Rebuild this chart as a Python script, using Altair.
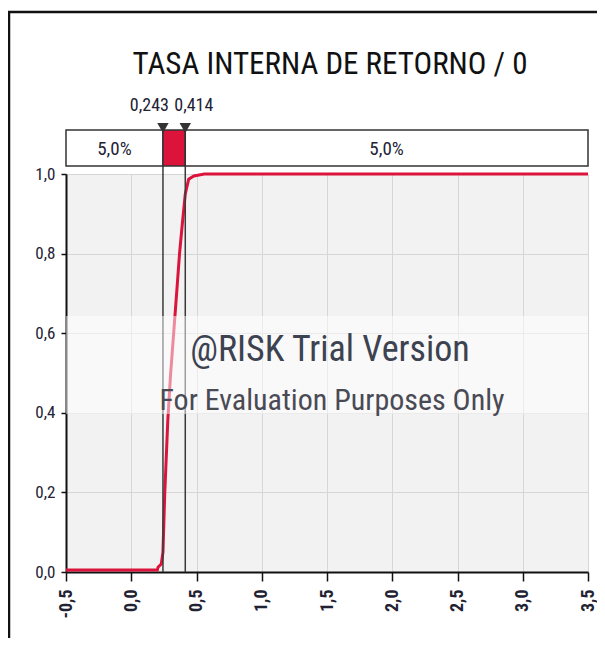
import altair as alt
import pandas as pd

# ---- data ----
cdf_x = [-0.5, 0.20, 0.205, 0.23, 0.243, 0.257, 0.28, 0.30, 0.325, 0.35, 0.37, 0.39, 0.414, 0.44, 0.48, 0.56, 3.5]
cdf_y = [0.005, 0.005, 0.012, 0.02, 0.05, 0.20, 0.38, 0.49, 0.60, 0.71, 0.80, 0.87, 0.95, 0.987, 0.995, 1.0, 1.0]

marker_x = [0.243, 0.414]
marker_label = ["0,243", "0,414"]

seg_start = [-0.5, 0.243, 0.414]
seg_end = [0.243, 0.414, 3.5]
seg_label = ["5,0%", "", "5,0%"]
seg_fill = ["#ffffff", "#dc143c", "#ffffff"]

x_ticks = [-0.5, 0.0, 0.5, 1.0, 1.5, 2.0, 2.5, 3.0, 3.5]
y_ticks = [0.0, 0.2, 0.4, 0.6, 0.8, 1.0]

title_text = "TASA INTERNA DE RETORNO / 0"
wm_line1 = "@RISK Trial Version"
wm_line2 = "For Evaluation Purposes Only"

FONT = "Roboto Condensed, Roboto, sans-serif"
RED = "#dc143c"
DARK = "#222233"

W, H = 522, 398

cdf = pd.DataFrame({"x": cdf_x, "p": cdf_y})
markers = pd.DataFrame({"x": marker_x, "label": marker_label})
segs = pd.DataFrame({"x0": seg_start, "x1": seg_end, "label": seg_label, "fill": seg_fill})
one = pd.DataFrame({"t": [title_text]})

xs = alt.Scale(domain=[x_ticks[0], x_ticks[-1]], nice=False, zero=False)
ys = alt.Scale(domain=[y_ticks[0], y_ticks[-1]], nice=False, zero=False)

fmt = "replace(replace(format(datum.value, '.1f'), '.', ','), '\u2212', '-')"

x_axis = alt.Axis(values=x_ticks, labelExpr=fmt, labelAngle=270, title=None,
                  grid=True, gridColor="#d6d6d6", domainColor="#111111", domainWidth=2,
                  tickColor="#111111", tickWidth=1.5, tickSize=9, labelPadding=8,
                  labelFont=FONT, labelFontSize=18, labelColor=DARK, labelFontWeight="bold")
y_axis = alt.Axis(values=y_ticks, labelExpr=fmt, title=None,
                  grid=True, gridColor="#d6d6d6", domainColor="#111111", domainWidth=2,
                  tickColor="#111111", tickWidth=1.5, tickSize=5, labelPadding=6,
                  labelFont=FONT, labelFontSize=17, labelColor=DARK)

base_line = alt.Chart(cdf).mark_line(color=RED, strokeWidth=3).encode(
    x=alt.X("x:Q", scale=xs, axis=x_axis),
    y=alt.Y("p:Q", scale=ys, axis=y_axis),
)

rules = alt.Chart(markers).mark_rule(color="#3a3a3a", strokeWidth=1.5).encode(
    x=alt.X("x:Q", scale=xs),
    y=alt.value(-44),
    y2=alt.value(H),
)

band = alt.Chart(one).mark_rect(fill="#ffffff", fillOpacity=0.5, strokeWidth=0).encode(
    x=alt.value(0), x2=alt.value(W), y=alt.value(142), y2=alt.value(240)
)

wm1 = alt.Chart(one).mark_text(text=wm_line1, font=FONT, fontSize=36, color="#3c4250",
                               align="center", baseline="alphabetic").encode(
    x=alt.value(W / 2 + 3), y=alt.value(187)
)
wm2 = alt.Chart(one).mark_text(text=wm_line2, font=FONT, fontSize=30, color="#4a4a55",
                               align="center", baseline="alphabetic").encode(
    x=alt.value(W / 2 + 5), y=alt.value(236)
)

bar = alt.Chart(segs).mark_rect(stroke="#333333", strokeWidth=1.5).encode(
    x=alt.X("x0:Q", scale=xs), x2="x1:Q",
    y=alt.value(-44), y2=alt.value(-8),
    fill=alt.Fill("fill:N", scale=None),
)
bar_text = alt.Chart(segs).transform_calculate(mid="(datum.x0 + datum.x1) / 2").mark_text(
    font=FONT, fontSize=19, color=DARK, baseline="middle").encode(
    x=alt.X("mid:Q", scale=xs), y=alt.value(-25), text="label:N"
)

tri = alt.Chart(markers).mark_point(shape="triangle-down", filled=True, size=130,
                                    color="#333333", opacity=1).encode(
    x=alt.X("x:Q", scale=xs), y=alt.value(-46)
)

lab_left = alt.Chart(markers.iloc[[0]]).mark_text(
    font=FONT, fontSize=18, color=DARK, align="right", baseline="alphabetic", dx=6).encode(
    x=alt.X("x:Q", scale=xs), y=alt.value(-63), text="label:N"
)
lab_right = alt.Chart(markers.iloc[[1]]).mark_text(
    font=FONT, fontSize=18, color=DARK, align="left", baseline="alphabetic", dx=-11).encode(
    x=alt.X("x:Q", scale=xs), y=alt.value(-63), text="label:N"
)

title = alt.Chart(one).mark_text(font=FONT, fontSize=31, color="#111111",
                                 align="center", baseline="alphabetic").encode(
    x=alt.value(W / 2 + 3), y=alt.value(-100), text="t:N"
)

frame = alt.Chart(one).mark_rect(fill="transparent", stroke="#111111", strokeWidth=2.5).encode(
    x=alt.value(-57), x2=alt.value(W + 200), y=alt.value(-162), y2=alt.value(H + 200)
)

chart = alt.layer(
    base_line, rules, band, wm1, wm2, bar, bar_text, tri, lab_left, lab_right, title, frame
).properties(
    width=W, height=H,
    autosize=alt.AutoSizeParams(type="none"),
    padding={"left": 58, "top": 166, "right": 9, "bottom": 66},
).configure_view(
    fill="#f2f2f2", strokeWidth=0
)

chart.save("out.html", embed_options={"renderer": "svg", "actions": False})
